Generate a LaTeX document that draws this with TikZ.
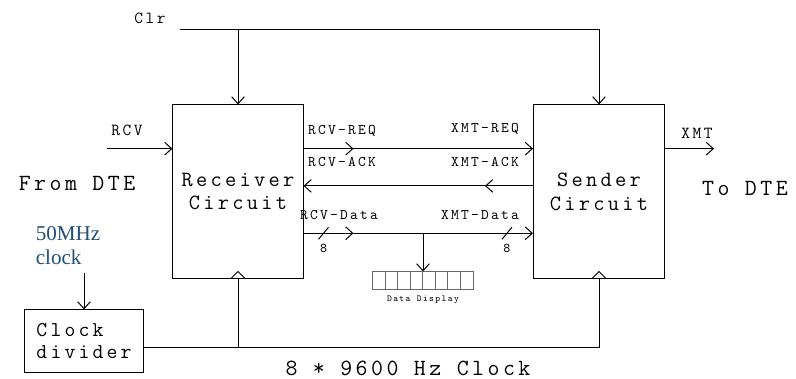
\documentclass[tikz,border=0pt]{standalone}
\usepackage{fontspec}
\usepackage{xcolor}
\usepackage{tikz}
\usetikzlibrary{arrows.meta, positioning, calc}
\newfontfamily\wirefont[LetterSpace=15]{Latin Modern Mono}
\newfontfamily\notefont{Liberation Serif}
\definecolor{noteblue}{HTML}{1F4E79}

\begin{document}
\begin{tikzpicture}[x=0.025cm, y=0.025cm,
  block/.style={draw, minimum width=3.25cm, minimum height=4.325cm,
                align=center, font=\wirefont\fontsize{15.5}{17}\selectfont},
  big/.style={font=\wirefont\fontsize{16.5}{18}\selectfont, inner sep=0pt},
  port/.style={font=\wirefont\fontsize{12}{14}\selectfont, inner sep=0pt},
  sig/.style={font=\wirefont\fontsize{10.5}{12}\selectfont, inner sep=0pt},
  tiny/.style={font=\wirefont\fontsize{6.5}{7}\selectfont, inner sep=0pt},
  >={Straight Barb[length=5pt,width=9pt]}, line width=0.7pt
]
\useasboundingbox (0,0) rectangle (796,379);

% main blocks
\node[block] (rcv) at (238,187.5) {Receiver\\Circuit};
\node[block, minimum width=3.275cm] (snd) at (599,187.5) {Sender\\Circuit};
\node[draw, minimum width=2.95cm, minimum height=1.55cm, align=left,
      font=\wirefont\fontsize{15}{15}\selectfont] (clk) at (84,38)
    {Clock\\divider};
\node[draw, minimum width=2.5cm, minimum height=0.425cm, inner sep=0pt,
      draw=black!60] (disp) at (423,98.5) {};
\foreach \i in {1,...,7}
  \draw[draw=black!60] ($(disp.south west)+(\i*12.5,0)$) -- ++(0,17);
\node[tiny, below=4pt of disp] (displbl) {Data Display};

% handshake lines
\coordinate (reqL) at ($(rcv.north east)!0.254!(rcv.south east)$);
\coordinate (ackL) at ($(rcv.north east)!0.468!(rcv.south east)$);
\coordinate (datL) at ($(rcv.north east)!0.74!(rcv.south east)$);

\draw[->] (reqL) -- ++(50,0);
\draw[->] (reqL) -- (reqL -| snd.west);
\draw[->] (ackL -| snd.west) -- ++(-48,0);
\draw[->] (ackL -| snd.west) -- (ackL);
\draw[->] (datL) -- ++(50,0);
\draw[->] (datL) -- (datL -| snd.west);

% bus width marks
\coordinate (busR) at ($(datL)+(20,0)$);
\coordinate (busX) at ($(datL -| snd.west)+(-26,0)$);
\draw ($(busR)+(-5,-6)$) -- ($(busR)+(5,6)$);
\draw ($(busX)+(-5,-6)$) -- ($(busX)+(5,6)$);
\node[font=\wirefont\fontsize{9.5}{10}\selectfont, below=4pt of busR] (wR) {8};
\node[font=\wirefont\fontsize{9.5}{10}\selectfont, below=4pt of busX] (wX) {8};

\coordinate (tap) at (disp.north |- datL);
\draw[->] (tap) -- (disp.north);

\node[sig] (reqr) at (342,248) {RCV-REQ};
\node[sig] (reqx) at (485,250) {XMT-REQ};
\node[sig] (ackr) at (342,217) {RCV-ACK};
\node[sig] (ackx) at (485,217) {XMT-ACK};
\node[sig] (datr) at (339,164) {RCV-Data};
\node[sig] (datx) at (480,164) {XMT-Data};

% clear
\node[port] (clrlbl) at (150,361) {Clr};
\coordinate (clr) at (180,349);
\draw[->] (clr) -| (snd.north);
\draw[->] (clr -| rcv.north) -- (rcv.north);

% serial ports
\path (rcv.west |- reqL) ++(-65,0) coordinate (rcvin);
\draw[->] (rcvin) -- (rcvin -| rcv.west);
\draw[->] (reqL -| snd.east) -- ++(49,0) coordinate (xmtout);
\node[port] (rcvlbl) at (127,249) {RCV};
\node[port] (xmtlbl) at (697,246) {XMT};
\node[big] (from) at (77,196) {From DTE};
\node[big] (to) at (745,191) {To DTE};

% clocks
\node[align=left, inner sep=0pt, text=noteblue,
      font=\notefont\fontsize{15}{17}\selectfont] (osc) at (68,133)
    {50MHz\\clock};
\draw[->, shorten <=5pt] (osc.south -| clk.north) -- (clk.north);
\coordinate (clkout) at ($(clk.north east)!0.6!(clk.south east)$);
\draw (clkout) -| (snd.south);
\draw (clkout -| rcv.south) -- (rcv.south);
\draw ($(rcv.south)+(-7,0)$) -- ($(rcv.south)+(0,7)$) -- ($(rcv.south)+(7,0)$);
\draw ($(snd.south)+(-7,0)$) -- ($(snd.south)+(0,7)$) -- ($(snd.south)+(7,0)$);
\node[big] (baud) at (408,11) {8 * 9600 Hz Clock};
\end{tikzpicture}
\end{document}
